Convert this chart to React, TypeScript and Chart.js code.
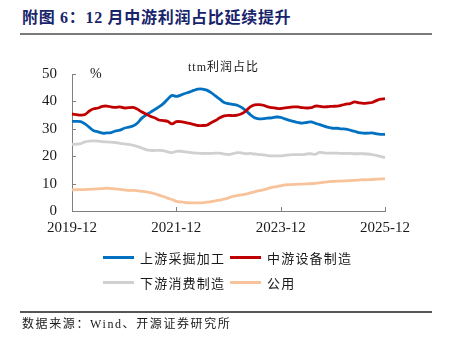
import React, { useEffect, useRef } from "react";
import { Chart, registerables } from "chart.js";

Chart.register(...registerables);

// ---- data (monthly, 2019-12 .. 2025-12) ----
const startYear = 2019;
const startMonth = 12;
const monthCount = 73;

const upstream = [
  32.7, 32.7, 32.6, 31.8, 30.5, 29.3, 28.9, 28.4, 28.5, 28.6, 29.2, 29.5,
  30.2, 30.6, 31.0, 32.0, 33.8, 35.0, 36.0, 37.0, 38.0, 39.2, 40.8, 42.2,
  41.8, 42.3, 42.9, 43.4, 44.0, 44.5, 44.5, 44.1, 43.2, 42.0, 40.8, 39.6,
  39.2, 38.9, 38.6, 37.8, 36.6, 35.2, 34.0, 33.6, 33.7, 33.9, 34.0, 34.3,
  34.2, 33.6, 33.1, 32.7, 32.3, 32.1, 32.3, 32.5, 32.0, 31.5, 31.0, 30.5,
  30.2, 30.2, 30.0, 29.9, 29.5, 29.1, 28.6, 28.4, 28.4, 28.5, 28.2, 28.0,
  28.0,
];
const midstream = [
  35.4, 35.2, 35.0, 35.2, 36.5, 37.3, 37.6, 38.2, 38.3, 38.0, 37.8, 38.0,
  37.6, 37.7, 37.8, 37.2, 36.2, 35.4, 34.6, 34.0, 33.2, 33.0, 32.7, 31.8,
  32.6, 32.6, 32.3, 32.0, 31.6, 31.2, 31.2, 31.3, 32.2, 33.0, 34.0, 34.7,
  34.9, 34.8, 35.0, 35.5, 36.5, 38.0, 38.7, 38.8, 38.6, 38.0, 37.7, 37.5,
  37.4, 37.6, 37.8, 38.0, 38.0, 37.7, 37.6, 37.7, 38.3, 38.2, 38.0, 38.1,
  38.2, 38.3, 38.6, 39.0, 39.2, 39.8, 39.5, 39.3, 39.4, 39.6, 40.3, 40.8,
  41.0,
];
const downstream = [
  24.3, 24.4, 24.6, 25.2, 25.5, 25.6, 25.5, 25.3, 25.2, 25.1, 25.0, 24.7,
  24.5, 24.3, 24.0, 23.6, 23.0, 22.4, 22.1, 22.1, 22.1, 22.0, 21.6, 21.3,
  21.8, 21.8, 21.6, 21.4, 21.2, 21.1, 21.0, 21.0, 21.0, 21.1, 21.1, 20.8,
  20.6, 20.9, 21.3, 21.2, 20.9, 21.0, 20.8, 20.6, 20.5, 20.2, 20.1, 20.1,
  20.1, 20.3, 20.5, 20.6, 20.6, 20.6, 20.8, 20.9, 20.7, 21.4, 21.2, 21.1,
  21.1, 21.1, 21.0, 21.0, 21.0, 20.9, 20.9, 20.9, 20.8, 20.6, 20.3, 19.9,
  19.5,
];
const utilities = [
  7.7, 7.8, 7.8, 7.8, 7.9, 8.0, 8.1, 8.2, 8.3, 8.2, 8.1, 7.9,
  7.7, 7.5, 7.5, 7.4, 7.2, 7.0, 6.7, 6.3, 5.8, 5.3, 4.7, 4.2,
  3.5, 3.3, 3.1, 3.0, 3.0, 3.0, 3.0, 3.2, 3.4, 3.7, 4.0, 4.3,
  4.8, 5.3, 5.6, 5.9, 6.2, 6.6, 7.0, 7.4, 7.7, 8.2, 8.6, 8.9,
  9.2, 9.5, 9.6, 9.7, 9.8, 9.8, 9.9, 10.0, 10.1, 10.3, 10.5, 10.7,
  10.8, 10.9, 10.9, 11.0, 11.1, 11.2, 11.3, 11.4, 11.4, 11.5, 11.6, 11.7,
  11.8,
];

const seriesNames = ["上游采掘加工", "中游设备制造", "下游消费制造", "公用"];
const seriesColors = ["#0070c0", "#c00000", "#d0d0d0", "#f8c39a"];
const yTicks = [0, 10, 20, 30, 40, 50];
const xTickEvery = 24;

const categories: string[] = [];
for (let i = 0; i < monthCount; i++) {
  const m0 = startMonth - 1 + i;
  const y = startYear + Math.floor(m0 / 12);
  const m = (m0 % 12) + 1;
  categories.push(`${y}-${m < 10 ? "0" + m : m}`);
}

const LATIN = '"Liberation Serif", "Times New Roman", serif';
const MIXED = '"Liberation Serif", "Noto Sans CJK SC", serif';
const CJK = '"Noto Sans CJK SC", "Liberation Serif", sans-serif';

const innerTicks = {
  id: "innerTicks",
  afterDraw(chart: any) {
    const ctx = chart.ctx;
    const x = chart.scales.x;
    const y = chart.scales.y;
    ctx.save();
    ctx.strokeStyle = "#808080";
    ctx.lineWidth = 1;
    ctx.beginPath();
    yTicks.forEach((v) => {
      if (v === 0) return;
      const py = Math.round(y.getPixelForValue(v)) + 0.5;
      ctx.moveTo(x.left, py);
      ctx.lineTo(x.left + 4, py);
    });
    for (let i = xTickEvery; i < monthCount; i += xTickEvery) {
      const px = Math.round(x.getPixelForValue(i)) + 0.5;
      ctx.moveTo(px, y.bottom);
      ctx.lineTo(px, y.bottom - 4);
    }
    ctx.stroke();
    ctx.restore();
  },
};

function ChartCanvas() {
  const ref = useRef<HTMLCanvasElement | null>(null);
  useEffect(() => {
    if (!ref.current) return;
    const data = [upstream, midstream, downstream, utilities];
    const chart = new Chart(ref.current, {
      type: "line",
      data: {
        labels: categories,
        datasets: data.map((d, i) => ({
          label: seriesNames[i],
          data: d,
          borderColor: seriesColors[i],
          backgroundColor: seriesColors[i],
          borderWidth: 2.8,
          pointRadius: 0,
          tension: 0.35,
          order: i === 0 ? 1 : i === 1 ? 0 : 2,
        })),
      },
      options: {
        animation: false,
        responsive: false,
        devicePixelRatio: 1,
        layout: { padding: { left: 0, right: 64, top: 74, bottom: 112 } },
        plugins: { legend: { display: false }, title: { display: false }, tooltip: { enabled: false } },
        scales: {
          x: {
            type: "category",
            grid: { display: false, drawTicks: false },
            border: { display: true, color: "#808080", width: 1 },
            afterFit: (s: any) => { s.height = 30; },
            ticks: {
              autoSkip: false,
              maxRotation: 0,
              padding: 8,
              color: "#1a1a1a",
              font: { family: LATIN, size: 15 },
              callback: (_v: any, i: number) => (i % xTickEvery === 0 ? categories[i] : ""),
            },
          },
          y: {
            min: 0,
            max: 50,
            grid: { display: false, drawTicks: false },
            border: { display: true, color: "#808080", width: 1 },
            afterFit: (s: any) => { s.width = 72; },
            afterBuildTicks: (s: any) => { s.ticks = yTicks.map((v) => ({ value: v })); },
            ticks: {
              padding: 15,
              color: "#1a1a1a",
              font: { family: LATIN, size: 15 },
            },
          },
        },
      },
      plugins: [innerTicks],
    });
    return () => chart.destroy();
  }, []);
  return (
    <canvas
      ref={ref}
      width={449}
      height={353}
      style={{ position: "absolute", left: 0, top: 0, width: 449, height: 353 }}
    />
  );
}

const abs = (left: number, cy: number, size: number): React.CSSProperties => ({
  position: "absolute",
  left,
  top: cy - size / 2,
  fontSize: size,
  lineHeight: `${size}px`,
  whiteSpace: "nowrap",
});

function LegendItem({ x, y, i }: { x: number; y: number; i: number }) {
  return (
    <>
      <div style={{ position: "absolute", left: x, top: y - 1.5, width: 31, height: 3, background: seriesColors[i] }} />
      <div style={{ ...abs(x + 37, y, 13), fontFamily: CJK, letterSpacing: 1.2, color: "#1a1a1a" }}>{seriesNames[i]}</div>
    </>
  );
}

export default function App() {
  return (
    <div style={{ position: "absolute", left: 0, top: 0, width: 449, height: 353, background: "#fff", overflow: "hidden" }}>
      <div style={{ ...abs(22, 18, 16), fontFamily: MIXED, fontWeight: "bold", color: "#17246b", letterSpacing: 0.7 }}>
        附图 6：12 月中游利润占比延续提升
      </div>
      <div style={{ position: "absolute", left: 20, top: 33, width: 412, height: 1.5, background: "#7a7a7a" }} />
      <ChartCanvas />
      <div style={{ ...abs(188, 67, 12), fontFamily: MIXED, color: "#1a1a1a", letterSpacing: 1 }}>ttm利润占比</div>
      <div style={{ ...abs(90, 74, 14), fontFamily: LATIN, color: "#1a1a1a" }}>%</div>
      <LegendItem x={103} y={257} i={0} />
      <LegendItem x={230} y={257} i={1} />
      <LegendItem x={103} y={282} i={2} />
      <LegendItem x={230} y={282} i={3} />
      <div style={{ position: "absolute", left: 20, top: 311, width: 412, height: 1.5, background: "#555" }} />
      <div style={{ ...abs(22, 324, 12), fontFamily: MIXED, color: "#1a1a1a", letterSpacing: 1.6 }}>
        数据来源：Wind、开源证券研究所
      </div>
    </div>
  );
}
